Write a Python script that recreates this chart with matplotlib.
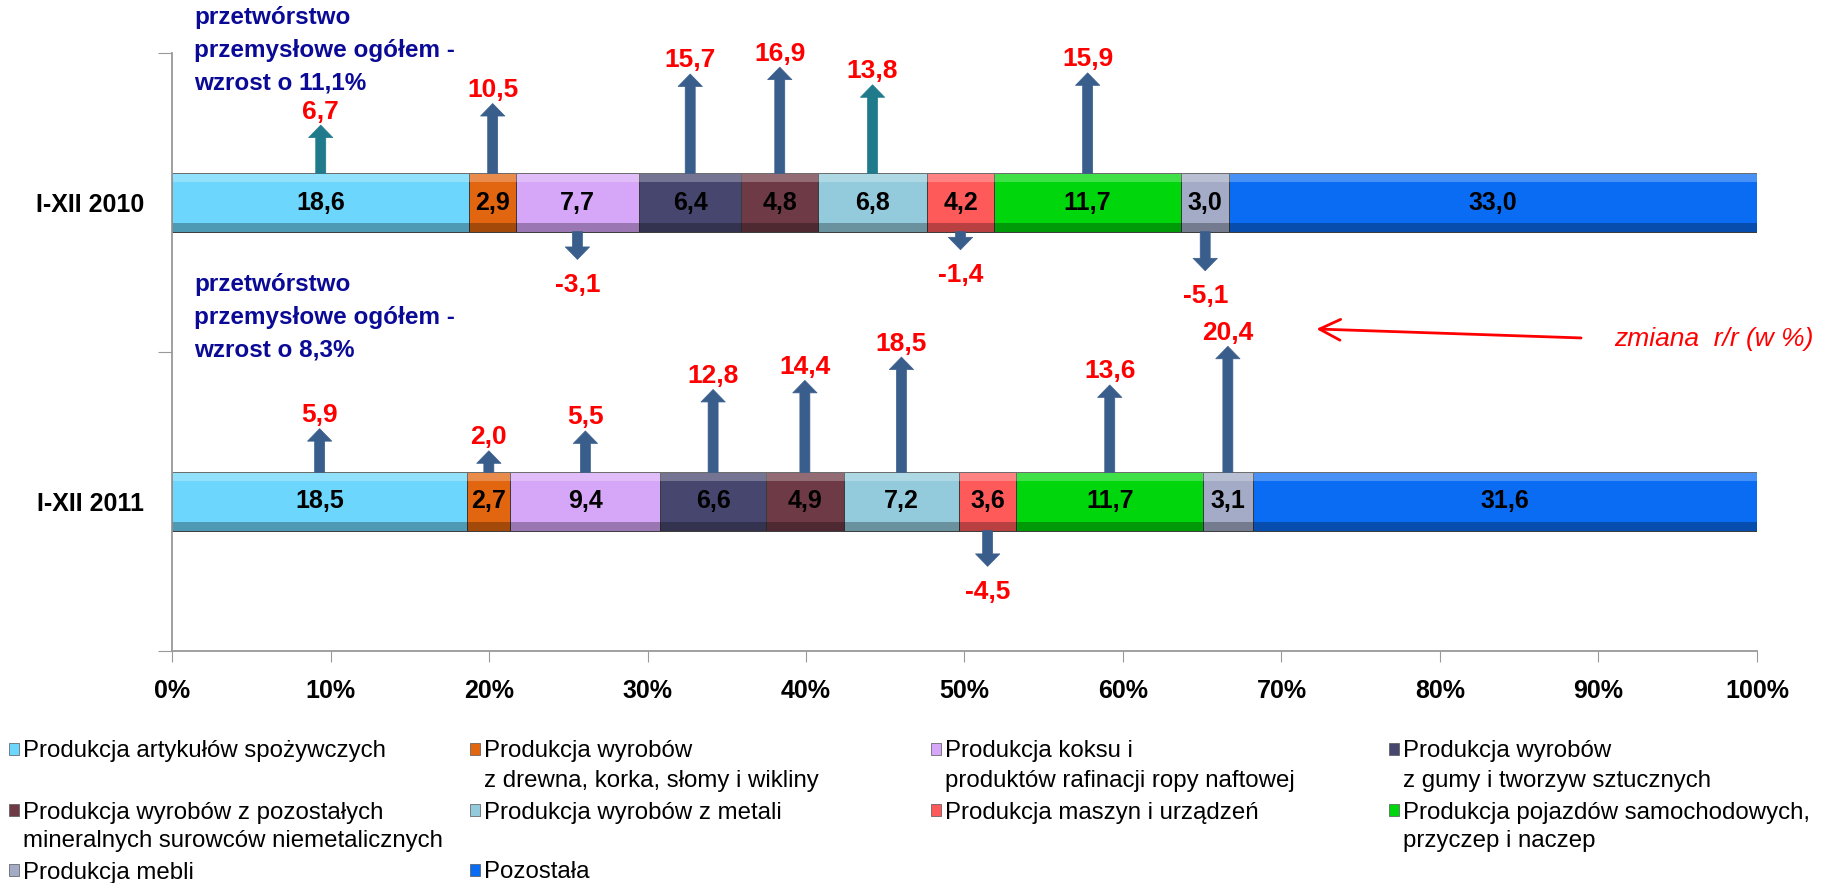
import matplotlib.pyplot as plt
from matplotlib.patches import Rectangle
import numpy as np

plt.rcParams['font.family'] = ['Liberation Sans', 'DejaVu Sans']

# dane
branze = ['Produkcja artykułów spożywczych',
          'Produkcja wyrobów\nz drewna, korka, słomy i wikliny',
          'Produkcja koksu i\nproduktów rafinacji ropy naftowej',
          'Produkcja wyrobów\nz gumy i tworzyw sztucznych',
          'Produkcja wyrobów z pozostałych\nmineralnych surowców niemetalicznych',
          'Produkcja wyrobów z metali',
          'Produkcja maszyn i urządzeń',
          'Produkcja pojazdów samochodowych,\nprzyczep i naczep',
          'Produkcja mebli',
          'Pozostała']
okresy = ['I-XII 2011', 'I-XII 2010']
udzial_2010 = [18.6, 2.9, 7.7, 6.4, 4.8, 6.8, 4.2, 11.7, 3.0, 33.0]
udzial_2011 = [18.5, 2.7, 9.4, 6.6, 4.9, 7.2, 3.6, 11.7, 3.1, 31.6]
zmiana_2010 = [6.7, 10.5, -3.1, 15.7, 16.9, 13.8, -1.4, 15.9, -5.1, None]
zmiana_2011 = [5.9, 2.0, 5.5, 12.8, 14.4, 18.5, -4.5, 13.6, 20.4, None]
ogolem = ['8,3', '11,1']

kolory = ['#6DD6FC', '#E2660F', '#D6A6F8', '#47466E', '#6E3A46',
          '#94CBDC', '#FF5A5A', '#00D60C', '#A3ABC6', '#0A6CF2']
strzalka_2010 = ['#1F7A8C', '#3A5E8C', '#3A5E8C', '#3A5E8C', '#3A5E8C',
                 '#1F7A8C', '#3A5E8C', '#3A5E8C', '#3A5E8C', '#3A5E8C']
strzalka_2011 = ['#3A5E8C'] * 10

W, H = 1833, 883
fig = plt.figure(figsize=(W / 100, H / 100), dpi=100)
ax = fig.add_axes([172 / W, 1 - 651 / H, (1757 - 172) / W, (651 - 53) / H])

bar_h = 0.195
bev = 0.028
styl = 'simple,head_length=0.9,head_width=1.75,tail_width=0.72'

for y, udzial, zmiana, kol_s in zip([1, 0], [udzial_2010, udzial_2011],
                                    [zmiana_2010, zmiana_2011],
                                    [strzalka_2010, strzalka_2011]):
    s = np.array(udzial)
    pct = s / s.sum() * 100
    left = np.concatenate([[0], np.cumsum(pct)[:-1]])
    ax.barh(y, pct, left=left, height=bar_h, color=kolory, edgecolor='#3a3a3a', linewidth=0.7)
    # efekt fazowania
    ax.barh(y + bar_h / 2 - bev / 2, pct, left=left, height=bev, color='white', alpha=0.25, linewidth=0)
    ax.barh(y - bar_h / 2 + bev / 2, pct, left=left, height=bev, color='black', alpha=0.28, linewidth=0)
    for i in range(len(s)):
        xc = left[i] + pct[i] / 2
        ax.text(xc, y, f'{udzial[i]:.1f}'.replace('.', ','), ha='center', va='center',
                fontsize=18, fontweight='bold', color='black')
        v = zmiana[i]
        if v is None:
            continue
        dl = 0.034 + 0.019 * abs(v)
        if v > 0:
            base = y + bar_h / 2
            tip = base + dl
            ax.text(xc, tip + 0.005, f'{v:.1f}'.replace('.', ','), ha='center', va='bottom',
                    fontsize=19, fontweight='bold', color='red')
        else:
            base = y - bar_h / 2
            tip = base - dl
            ax.text(xc, tip - 0.045, f'{v:.1f}'.replace('.', ','), ha='center', va='top',
                    fontsize=19, fontweight='bold', color='red')
        ax.annotate('', xy=(xc, tip), xytext=(xc, base),
                    arrowprops=dict(arrowstyle=styl, mutation_scale=10, fc=kol_s[i],
                                    ec=kol_s[i], lw=0.5, shrinkA=0, shrinkB=0))

# napisy "przetworstwo ogolem"
for y, w in zip([0.617, 1.51], ogolem):
    ax.text(1.4, y, 'przetwórstwo\nprzemysłowe ogółem -\nwzrost o ' + w + '%', color='#0A0A96',
            fontsize=17.5, fontweight='bold', ha='left', va='center', linespacing=1.55, clip_on=False)

ax.annotate('', xy=(72.2, 0.577), xytext=(88.9, 0.547),
            arrowprops=dict(arrowstyle='->,head_length=0.5,head_width=0.25', color='red',
                            lw=2, mutation_scale=30, shrinkA=0, shrinkB=0))
ax.text(91.0, 0.545, 'zmiana  r/r (w %)', color='red', style='italic', fontsize=19,
        ha='left', va='center', clip_on=False)

ax.set_xlim(0, 100)
ax.set_ylim(-0.5, 1.5)
ax.set_xticks(np.arange(0, 101, 10))
ax.set_xticklabels([f'{t}%' for t in range(0, 101, 10)], fontsize=18, fontweight='bold')
ax.set_yticks([-0.5, 0.5, 1.5])
ax.set_yticklabels([])
ax.set_yticks([0, 1], minor=True)
ax.set_yticklabels(okresy, minor=True, fontsize=18, fontweight='bold')
ax.tick_params(axis='x', length=8, color='#999999', pad=12)
ax.tick_params(axis='y', which='major', length=10, color='#999999')
ax.tick_params(axis='y', which='minor', length=0, pad=20)
for sp in ['top', 'right']:
    ax.spines[sp].set_visible(False)
for sp in ['left', 'bottom']:
    ax.spines[sp].set_color('#999999')
    ax.spines[sp].set_linewidth(1.3)

# legenda
kol_x = [23, 484, 945, 1403]
wiersz_y = [749, 810, 870]
for i, (lab, k) in enumerate(zip(branze, kolory)):
    r, c = divmod(i, 4)
    x0, y0 = kol_x[c], wiersz_y[r]
    fig.patches.append(Rectangle(((x0 - 14) / W, 1 - (y0 + 6) / H), 10 / W, 12 / H,
                                 transform=fig.transFigure, facecolor=k,
                                 edgecolor='#555555', linewidth=0.5))
    for j, linia in enumerate(lab.split('\n')):
        fig.text(x0 / W, 1 - (y0 + 29 * j) / H, linia, fontsize=17.3, ha='left',
                 va='center_baseline', color='black')

fig.savefig('out.png', dpi=100)
